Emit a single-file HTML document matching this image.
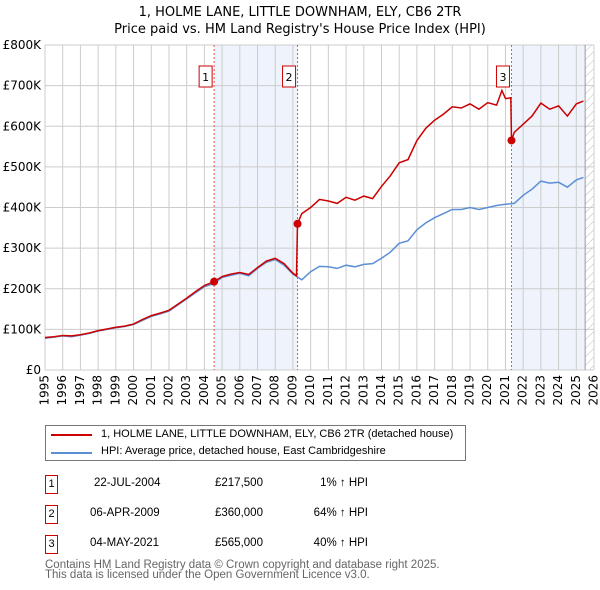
<!DOCTYPE html>
<html><head><meta charset="utf-8"><style>
body{margin:0;background:#fff;font-family:"Liberation Sans","DejaVu Sans",sans-serif;}
#c{position:relative;width:600px;height:590px;overflow:hidden}
.t{position:absolute;font-size:12px;color:#000;white-space:nowrap}
</style></head><body><div id="c">
<svg id="s" width="600" height="420" style="position:absolute;left:0;top:0">
<text x="300" y="16" text-anchor="middle" font-size="13" font-family="DejaVu Sans, sans-serif">1, HOLME LANE, LITTLE DOWNHAM, ELY, CB6 2TR</text>
<text x="300" y="33" text-anchor="middle" font-size="13" font-family="DejaVu Sans, sans-serif">Price paid vs. HM Land Registry's House Price Index (HPI)</text>
<defs><pattern id="h" width="6" height="6" patternUnits="userSpaceOnUse" patternTransform="rotate(45)"><line x1="0" y1="0" x2="0" y2="6" stroke="#bbb" stroke-width="1"/></pattern></defs>
<g id="g"></g>
</svg>
<div style="position:absolute;left:45px;top:425px;width:421px;height:36px;border:1px solid #777;box-sizing:border-box">
<div style="position:absolute;left:5px;top:8px;width:41px;height:2px;background:#cc0000"></div>
<div class="t" style="left:55px;top:2px;font-size:11px">1, HOLME LANE, LITTLE DOWNHAM, ELY, CB6 2TR (detached house)</div>
<div style="position:absolute;left:5px;top:26px;width:41px;height:2px;background:#5b8fd4"></div>
<div class="t" style="left:55px;top:19px;font-size:11px">HPI: Average price, detached house, East Cambridgeshire</div>
</div>
<div id="tbl"></div>
<div class="t" style="left:45px;top:560px;color:#666;font-size:11.5px;line-height:10px">Contains HM Land Registry data © Crown copyright and database right 2025.<br>This data is licensed under the Open Government Licence v3.0.</div>
</div>
<script>
const hpiYears=[1995,1995.5,1996,1996.5,1997,1997.5,1998,1998.5,1999,1999.5,2000,2000.5,2001,2001.5,2002,2002.5,2003,2003.5,2004,2004.5,2005,2005.5,2006,2006.5,2007,2007.5,2008,2008.5,2009,2009.5,2010,2010.5,2011,2011.5,2012,2012.5,2013,2013.5,2014,2014.5,2015,2015.5,2016,2016.5,2017,2017.5,2018,2018.5,2019,2019.5,2020,2020.5,2021,2021.5,2022,2022.5,2023,2023.5,2024,2024.5,2025,2025.4];
const hpiValues=[78,81,84,82,86,90,96,100,104,107,112,122,132,138,145,160,175,190,205,212,228,233,238,232,250,265,272,258,236,222,242,255,254,250,258,254,260,262,275,290,312,318,345,362,375,385,395,395,400,395,400,405,408,410,430,445,465,460,462,450,468,474];
const redYears=[1995,1995.5,1996,1996.5,1997,1997.5,1998,1998.5,1999,1999.5,2000,2000.5,2001,2001.5,2002,2002.5,2003,2003.5,2004,2004.55,2005,2005.5,2006,2006.5,2007,2007.5,2008,2008.5,2009,2009.2,2009.26,2009.5,2010,2010.5,2011,2011.5,2012,2012.5,2013,2013.5,2014,2014.5,2015,2015.5,2016,2016.5,2017,2017.5,2018,2018.5,2019,2019.5,2020,2020.5,2020.8,2021,2021.3,2021.34,2021.5,2022,2022.5,2023,2023.5,2024,2024.5,2025,2025.4];
const redValues=[80,82,85,84,87,91,97,101,105,108,113,124,134,140,147,162,177,193,208,217.5,230,236,240,235,252,268,275,262,238,232,360,385,400,420,416,410,425,418,428,422,452,478,510,518,565,595,615,630,648,645,655,642,658,652,688,668,670,565,585,605,625,657,642,650,625,655,662];
const sales=[{n:"1",y:2004.55,v:217.5,d:"22-JUL-2004",p:"£217,500",h:"1% \u2191 HPI"},{n:"2",y:2009.26,v:360,d:"06-APR-2009",p:"£360,000",h:"64% \u2191 HPI"},{n:"3",y:2021.34,v:565,d:"04-MAY-2021",p:"£565,000",h:"40% \u2191 HPI"}];
const yTicks=[0,100,200,300,400,500,600,700,800];
const yTickLabels=["£0","£100K","£200K","£300K","£400K","£500K","£600K","£700K","£800K"];
const X0=45,X1=594,Y0=370,Y1=45;
const xs=y=>X0+(y-1995)*(X1-X0)/31, ys=v=>Y0-v*(Y0-Y1)/800;
const NS="http://www.w3.org/2000/svg",g=document.getElementById('g');
function mk(t,a,p){const e=document.createElementNS(NS,t);for(const k in a)e.setAttribute(k,a[k]);(p||g).appendChild(e);return e;}
let r;
r=mk('rect',{x:xs(2004.55),y:Y1,width:xs(2009.26)-xs(2004.55),height:Y0-Y1,fill:'#eef3fc'});

r=mk('rect',{x:xs(2021.34),y:Y1,width:xs(2025.5)-xs(2021.34),height:Y0-Y1,fill:'#eef3fc'});

r=mk('rect',{x:xs(2025.5),y:Y1,width:X1-xs(2025.5),height:Y0-Y1,fill:'url(#h)'});

for(let y=1995;y<=2026;y++){
 const x=xs(y);
 const l=mk('line',{x1:x,x2:x,y1:Y1,y2:Y0,stroke:'#ccc','stroke-width':1});
 
 const t=mk('text',{x:x,y:Y0+5,'font-size':12,'text-anchor':'end','dominant-baseline':'middle',transform:`rotate(-90 ${x} ${Y0+5})`,'font-family':'DejaVu Sans, sans-serif'});
 t.textContent=y;
}
yTicks.forEach((v,i)=>{
 const y=ys(v);
 const l=mk('line',{x1:X0,x2:X1,y1:y,y2:y,stroke:'#ccc','stroke-width':1});
 
 const t=mk('text',{x:X0-4,y:y+4,'font-size':12,'text-anchor':'end','font-family':'DejaVu Sans, sans-serif'});
 t.textContent=yTickLabels[i];
});
r=mk('line',{x1:xs(2025.5),x2:xs(2025.5),y1:Y1,y2:Y0,stroke:'#999','stroke-width':1});

sales.forEach(s=>{
 const x=xs(s.y);
 const l=mk('line',{x1:x,x2:x,y1:Y1,y2:Y0,stroke:'#e55','stroke-width':1,'stroke-dasharray':'2,2'});
 
 const b=mk('rect',{x:x-15,y:66,width:13,height:21,fill:'#fff',stroke:'#c00'});
 
 const t=mk('text',{x:x-8.5,y:81,'font-size':11,'text-anchor':'middle','font-family':'DejaVu Sans, sans-serif'});
 t.textContent=s.n;
});
let d=hpiYears.map((y,i)=>(i?'L':'M')+xs(y).toFixed(1)+','+ys(hpiValues[i]).toFixed(1)).join('');
r=mk('path',{d:d,fill:'none',stroke:'#5b8fd4','stroke-width':1.5});

d=redYears.map((y,i)=>(i?'L':'M')+xs(y).toFixed(1)+','+ys(redValues[i]).toFixed(1)).join('');
r=mk('path',{d:d,fill:'none',stroke:'#cc0000','stroke-width':1.5});

sales.forEach(s=>{
 const c=mk('circle',{cx:xs(s.y),cy:ys(s.v),r:4,fill:'#cc0000'});
 
});
const tbl=document.getElementById('tbl');
sales.forEach((s,i)=>{
 const top=475+i*30;
 const row=document.createElement('div');
 
 
 row.innerHTML=`<div style="position:absolute;left:45px;top:${top}px;width:13px;height:19px;border:1px solid #c00;box-sizing:border-box;font-size:11px;text-align:center;line-height:17px">${s.n}</div>
<div class="t" style="left:${i?90:94}px;top:${top+2}px;font-size:11.5px">${s.d}</div>
<div class="t" style="left:215px;top:${top+2}px;font-size:11.5px">${s.p}</div>
<div class="t" style="left:300px;top:${top+2}px;width:68px;text-align:right;font-size:11.5px">${s.h}</div>`;
 tbl.appendChild(row);
});
</script></body></html>
